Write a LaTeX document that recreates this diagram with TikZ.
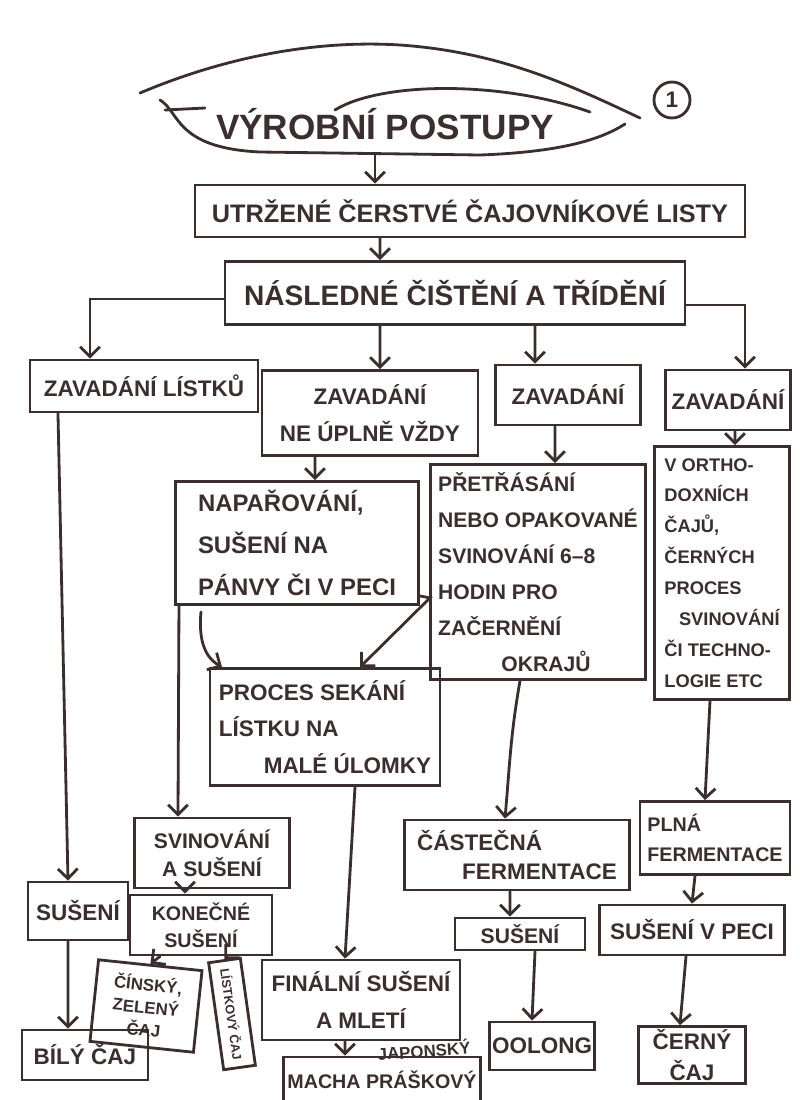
\documentclass[tikz,border=0pt]{standalone}
\usepackage{fontspec}
\setmainfont{Liberation Sans}
\usetikzlibrary{arrows.meta, shapes.geometric, calc}
\definecolor{inkbrown}{RGB}{58,46,46}
\tikzset{
  base/.style={draw=inkbrown, line width=2pt, align=center, text=inkbrown,
               font=\fontsize{16}{26}\selectfont\bfseries, inner sep=2pt},
  box/.style 2 args={base, minimum width=#1, minimum height=#2},
  arr/.style={-{Straight Barb[length=7pt, width=14pt]}, line width=2pt,
              draw=inkbrown, line cap=round},
}

\begin{document}
\begin{tikzpicture}[
  x=0.025cm, y=-0.025cm,
  leaf/.style={draw=inkbrown, line width=2pt, line cap=round},
]
  \useasboundingbox (0,0) rectangle (800,1100);

  % Title leaf
  \node[text=inkbrown, font=\fontsize{25}{28}\selectfont\bfseries] (title) at (385,124) {VÝROBNÍ POSTUPY};
  \node[circle, draw=inkbrown, line width=2pt, minimum size=0.9cm, inner sep=0pt,
        text=inkbrown, font=\fontsize{16}{18}\selectfont\bfseries] (pagenum) at (672,100) {1};
  \draw[leaf] (140,93) .. controls (230,55) and (320,40) .. (400,45)
              .. controls (500,52) and (570,85) .. (640,118);
  \draw[leaf] (160,100) .. controls (180,112) and (175,148) .. (260,152)
              -- (480,155) .. controls (560,152) and (600,140) .. (625,124);
  \draw[leaf] (335,110) .. controls (380,82) and (500,80) .. (590,112);
  \draw[leaf] (165,110) -- (205,108);
  \coordinate (leafbot) at (375,155);

  % Boxes
  \node[box={13.75cm}{1.3cm}, font=\fontsize{18}{20}\selectfont\bfseries] (utr) at (470,211) {UTRŽENÉ ČERSTVÉ ČAJOVNÍKOVÉ LISTY};
  \node[box={11.5cm}{1.575cm}, font=\fontsize{20}{22}\selectfont\bfseries] (nasl) at (455,293) {NÁSLEDNÉ ČIŠTĚNÍ A TŘÍDĚNÍ};

  \node[box={5.7cm}{1.3cm}] (zav1) at (144,386) {ZAVADÁNÍ LÍSTKŮ};
  \node[box={5.4cm}{2.125cm}] (zav2) at (370,413) {ZAVADÁNÍ\\NE ÚPLNĚ VŽDY};
  \node[box={3.625cm}{1.5cm}] (zav3) at (568,395) {ZAVADÁNÍ};
  \node[box={3.125cm}{1.5cm}] (zav4) at (728,400) {ZAVADÁNÍ};

  \node[box={6.075cm}{3.075cm}, align=left, font=\fontsize{17}{30}\selectfont\bfseries] (napar) at (297,543)
    {NAPAŘOVÁNÍ,\\SUŠENÍ NA\\PÁNVY ČI V PECI};
  \node[box={5.375cm}{5.375cm}, align=left, font=\fontsize{15}{25.5}\selectfont\bfseries] (pretr) at (538,572)
    {PŘETŘÁSÁNÍ\\NEBO OPAKOVANÉ\\SVINOVÁNÍ 6–8\\HODIN PRO\\ZAČERNĚNÍ\\\hspace{3em}OKRAJŮ};
  \node[box={3.375cm}{6.325cm}, align=left, font=\fontsize{13}{22}\selectfont\bfseries] (orth) at (722,573)
    {V ORTHO-\\DOXNÍCH\\ČAJŮ,\\ČERNÝCH\\PROCES\\\hspace{0.8em}SVINOVÁNÍ\\ČI TECHNO-\\LOGIE ETC};
  \node[box={5.75cm}{2.925cm}, align=left] (proces) at (325,727) {PROCES SEKÁNÍ\\LÍSTKU NA\\\hspace{2em}MALÉ ÚLOMKY};

  \node[box={5.625cm}{1.75cm}, align=left, font=\fontsize{16}{20}\selectfont\bfseries] (castec) at (517,855) {ČÁSTEČNÁ\\\hspace{2em}FERMENTACE};
  \node[box={3.75cm}{1.825cm}, align=left, font=\fontsize{14}{21}\selectfont\bfseries] (plna) at (715,838) {PLNÁ\\FERMENTACE};

  \node[box={3.875cm}{1.75cm}, font=\fontsize{15}{20}\selectfont\bfseries] (svin) at (212,853) {SVINOVÁNÍ\\A SUŠENÍ};
  \node[box={2.5cm}{1.45cm}] (suseni1) at (78,911) {SUŠENÍ};
  \node[box={3.55cm}{1.5cm}, font=\fontsize{14}{19}\selectfont\bfseries] (konec) at (201,925) {KONEČNÉ\\SUŠENÍ};
  \node[box={3.25cm}{0.8cm}, font=\fontsize{15}{18}\selectfont\bfseries] (suseni2) at (520,934) {SUŠENÍ};
  \node[box={4.625cm}{1.25cm}] (pec) at (692,930) {SUŠENÍ V PECI};

  \node[box={3.15cm}{1.25cm}] (bily) at (85,1055) {BÍLÝ ČAJ};
  \node[box={2.6cm}{2.05cm}, font=\fontsize{12}{16}\selectfont\bfseries, rotate=-6] (cinsky) at (146,1006) {ČÍNSKÝ,\\ZELENÝ\\ČAJ};
  \node[box={2.7cm}{0.8cm}, rotate=-82, font=\fontsize{9}{11}\selectfont\bfseries] (listk) at (232,1014) {LÍSTKOVÝ ČAJ};
  \node[box={4.95cm}{2cm}] (final) at (361,1000) {FINÁLNÍ SUŠENÍ\\A MLETÍ};
  \node[box={4.925cm}{1.15cm}, font=\fontsize{14}{16}\selectfont\bfseries] (macha) at (382,1080) {MACHA PRÁŠKOVÝ};
  \node[text=inkbrown, font=\fontsize{12}{14}\selectfont\bfseries, rotate=4] (japon) at (424,1050) {JAPONSKÝ};
  \node[box={2.625cm}{1.2cm}] (oolong) at (542,1046) {OOLONG};
  \node[box={2.675cm}{1.375cm}, font=\fontsize{16}{22}\selectfont\bfseries] (cerny) at (692,1055) {ČERNÝ\\ČAJ};

  % Arrows
  \draw[arr] (leafbot) -- (utr.north -| leafbot);
  \draw[arr] ([xshift=-2.25cm]utr.south) -- ([xshift=-1.875cm]nasl.north);
  \draw[arr] ([yshift=-0.15cm]nasl.west) -| ([xshift=-1.35cm]zav1.north);
  \draw[arr] ([xshift=-1.875cm]nasl.south) -- ([xshift=0.25cm]zav2.north);
  \draw[arr] ([xshift=2cm]nasl.south) -- ([xshift=-0.825cm]zav3.north);
  \draw[arr] ([yshift=-0.3cm]nasl.east) -| ([xshift=0.425cm]zav4.north);

  \draw[arr] ([xshift=-2.15cm]zav1.south) -- ([xshift=-0.25cm]suseni1.north);
  \draw[arr] ([xshift=-1.375cm]zav2.south) -- ([xshift=0.45cm]napar.north);
  \draw[arr] ([xshift=-0.325cm]zav3.south) -- ([xshift=0.425cm]pretr.north);
  \draw[arr] ([xshift=0.175cm]zav4.south) -- ([xshift=0.325cm]orth.north);

  \draw[arr] ([xshift=-2.4cm, yshift=-0.15cm]napar.south) to[out=-95, in=150] ([xshift=-2.575cm]proces.north);
  \draw[arr] ([yshift=0.25cm]napar.south east) -- ++(10,2) -- ([xshift=0.875cm]proces.north);
  \draw[arr] ([xshift=-2.95cm]napar.south) -- ([xshift=-0.85cm]svin.north);
  \draw[arr] ([xshift=-0.45cm]pretr.south) to[out=-100, in=85] ([xshift=-0.3cm]castec.north);
  \draw[arr] ([xshift=-0.3cm]orth.south) -- ([xshift=-0.25cm]plna.north);
  \draw[arr] ([xshift=0.75cm]proces.south) -- ([xshift=-0.4cm]final.north);

  \draw[arr] ([xshift=-0.675cm]svin.south) -- ([xshift=-0.4cm]konec.north);
  \draw[arr] ([xshift=-0.25cm]suseni1.south) -- ([xshift=-0.425cm]bily.north);
  \draw[arr] ([xshift=-1.025cm]konec.south) -- (cinsky.north);
  \draw[arr] ([xshift=0.65cm]konec.south) -- (listk.west);
  \draw[arr] ([xshift=-0.4cm]final.south) -- ([xshift=-0.925cm]macha.north);

  \draw[arr] ([xshift=-0.175cm]castec.south) -- ([xshift=-0.25cm]suseni2.north);
  \draw[arr] ([xshift=-0.5cm]plna.south) -- (pec.north);
  \draw[arr] ([xshift=0.375cm]suseni2.south) -- ([xshift=-0.25cm]oolong.north);
  \draw[arr] ([xshift=-0.15cm]pec.south) -- ([xshift=-0.3cm]cerny.north);
\end{tikzpicture}
\end{document}
